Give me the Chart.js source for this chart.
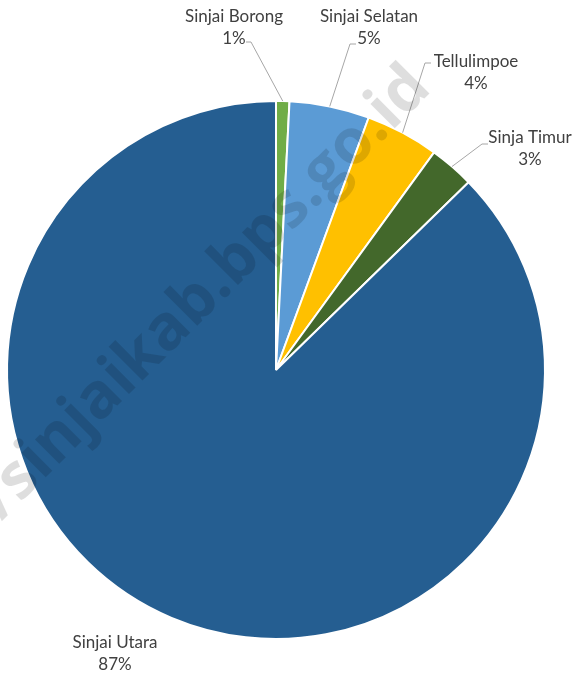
<!DOCTYPE html>
<html>
<head>
<meta charset="utf-8">
<script src="https://cdn.jsdelivr.net/npm/chart.js@4"></script>
<style>
  html, body { margin: 0; padding: 0; background: #fff; }
  #wrap { width: 575px; height: 675px; }
</style>
</head>
<body>
<div id="wrap"><canvas id="pieChart"></canvas></div>
<script>
// Dati del grafico
const kecamatan = ['Sinjai Borong', 'Sinjai Selatan', 'Tellulimpoe', 'Sinja Timur', 'Sinjai Utara'];
const nilai = [0.8, 4.8, 4.4, 2.7, 87.3];
const etichette = ['1%', '5%', '4%', '3%', '87%'];
const colori = ['#70AD47', '#5B9BD5', '#FFC000', '#43682B', '#255E91'];

// Posizione delle etichette: centro x, baseline del nome, gomito della linea guida
const posEtichette = [
    { x: 234, y: 22, elbow: [251, 42], end: 246 },
    { x: 369, y: 22, elbow: [350, 44], end: 356 },
    { x: 476, y: 67, elbow: [425, 63], end: 431 },
    { x: 530, y: 143, elbow: [482, 144], end: 488 },
    { x: 115, y: 648, elbow: null }
];

const ctx = document.getElementById('pieChart').getContext('2d');

// Plugin per le etichette con linee guida
const etichettePlugin = {
    id: 'etichette',
    afterDatasetsDraw(chart) {
        const c = chart.ctx;
        const meta = chart.getDatasetMeta(0);
        c.save();
        meta.data.forEach(function(arc, i) {
            const p = posEtichette[i];
            if (p.elbow) {
                const mid = (arc.startAngle + arc.endAngle) / 2;
                const sx = arc.x + Math.cos(mid) * arc.outerRadius;
                const sy = arc.y + Math.sin(mid) * arc.outerRadius;
                c.strokeStyle = '#a6a6a6';
                c.lineWidth = 1;
                c.beginPath();
                c.moveTo(sx, sy);
                c.lineTo(p.elbow[0], p.elbow[1]);
                c.lineTo(p.end, p.elbow[1]);
                c.stroke();
            }
            c.fillStyle = '#404040';
            c.font = '17px Lato';
            c.textAlign = 'center';
            c.textBaseline = 'alphabetic';
            c.fillText(kecamatan[i], p.x, p.y);
            c.fillText(etichette[i], p.x, p.y + 22);
        });
        c.restore();
    }
};

// Filigrana
const filigranaPlugin = {
    id: 'filigrana',
    afterDraw(chart) {
        const c = chart.ctx;
        c.save();
        c.translate(433, 90);
        c.rotate(-Math.PI / 4);
        c.font = 'bold 63px "Open Sans"';
        c.fillStyle = 'rgba(0,0,0,0.13)';
        c.textAlign = 'right';
        c.textBaseline = 'alphabetic';
        c.fillText('https://sinjaikab.bps.go.id', 0, 0);
        c.restore();
    }
};

const chart = new Chart(ctx, {
    type: 'pie',
    data: {
        labels: kecamatan,
        datasets: [{
            data: nilai,
            backgroundColor: colori,
            borderColor: '#ffffff',
            borderWidth: 2
        }]
    },
    options: {
        responsive: true,
        maintainAspectRatio: false,
        animation: false,
        layout: { padding: { left: 6, right: 29, top: 100, bottom: 35 } },
        plugins: {
            legend: { display: false },
            tooltip: { enabled: false }
        }
    },
    plugins: [etichettePlugin, filigranaPlugin]
});
</script>
</body>
</html>
